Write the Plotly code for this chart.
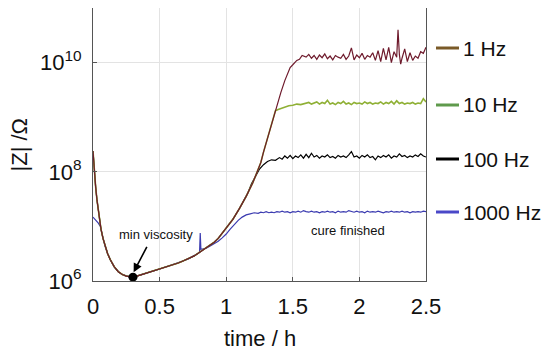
import numpy as np
import plotly.graph_objects as go

# ---------------- data (log10 |Z| in Ohm, time in h) ----------------
# shared curve for all frequencies (merged early part of the cure)
t_main = [0, 0.01, 0.02, 0.03, 0.04, 0.05, 0.06, 0.075, 0.09, 0.11, 0.13, 0.16, 0.19,
          0.22, 0.25, 0.28, 0.30, 0.33, 0.37, 0.42, 0.46, 0.50, 0.55, 0.60, 0.64, 0.68,
          0.72, 0.76, 0.79, 0.82, 0.85, 0.88, 0.91, 0.94, 0.97, 1.00, 1.05, 1.10, 1.15,
          1.20, 1.23, 1.26, 1.28, 1.30, 1.33, 1.35, 1.37]
lz_main = [8.38, 7.98, 7.72, 7.48, 7.28, 7.10, 6.95, 6.78, 6.64, 6.50, 6.39, 6.26, 6.17,
           6.12, 6.09, 6.07, 6.07, 6.09, 6.12, 6.16, 6.19, 6.22, 6.26, 6.30, 6.33, 6.37,
           6.41, 6.46, 6.51, 6.56, 6.61, 6.66, 6.71, 6.78, 6.87, 6.96, 7.13, 7.33, 7.55,
           7.80, 7.97, 8.17, 8.36, 8.53, 8.76, 8.94, 9.12]

# 1 Hz tail
t_1hz = [1.39, 1.41, 1.44, 1.46, 1.48, 1.50, 1.53, 1.55, 1.57, 1.60, 1.62, 1.64, 1.66,
         1.68, 1.70, 1.72, 1.74, 1.76, 1.78, 1.80, 1.82, 1.84, 1.86, 1.88, 1.90, 1.92,
         1.94, 1.96, 1.98, 2.00, 2.02, 2.04, 2.06, 2.08, 2.10, 2.12, 2.14, 2.16, 2.18,
         2.20, 2.22, 2.24, 2.26, 2.28, 2.29, 2.30, 2.31, 2.32, 2.34, 2.36, 2.38, 2.40,
         2.42, 2.44, 2.46, 2.48, 2.50]
lz_1hz = [9.31, 9.45, 9.67, 9.80, 9.91, 9.96, 10.04, 10.06, 10.13, 10.10, 10.15, 10.08, 10.13,
          10.06, 10.14, 10.09, 10.16, 10.07, 10.12, 10.05, 10.13, 10.10, 10.08, 10.15, 10.06, 10.12,
          10.27, 10.05, 10.14, 10.09, 10.17, 10.06, 10.13, 10.10, 10.18, 10.04, 10.22, 10.02, 10.26,
          10.05, 10.28, 10.00, 10.20, 10.10, 10.60, 10.15, 9.97, 10.08, 10.25, 10.02, 10.18, 10.04,
          10.12, 10.08, 10.20, 10.17, 10.28]

# 10 Hz tail
t_10hz = [1.39, 1.41, 1.44, 1.47, 1.50, 1.53, 1.56, 1.60, 1.62, 1.64, 1.66, 1.68, 1.70, 1.72,
          1.74, 1.76, 1.78, 1.80, 1.82, 1.84, 1.86, 1.88, 1.90, 1.92, 1.94, 1.96, 1.98, 2.00,
          2.02, 2.04, 2.06, 2.08, 2.10, 2.12, 2.14, 2.16, 2.18, 2.20, 2.22, 2.24, 2.26, 2.28,
          2.30, 2.32, 2.34, 2.36, 2.38, 2.40, 2.42, 2.44, 2.46, 2.48, 2.50]
lz_10hz = [9.14, 9.16, 9.19, 9.21, 9.22, 9.24, 9.23, 9.25, 9.27, 9.24, 9.26, 9.28, 9.24, 9.27,
           9.25, 9.31, 9.24, 9.26, 9.23, 9.27, 9.25, 9.29, 9.24, 9.26, 9.23, 9.27, 9.25, 9.26,
           9.24, 9.28, 9.25, 9.27, 9.24, 9.26, 9.25, 9.28, 9.24, 9.27, 9.25, 9.29, 9.24, 9.30,
           9.25, 9.27, 9.24, 9.26, 9.25, 9.27, 9.24, 9.26, 9.25, 9.34, 9.28]

# 100 Hz tail (leaves the shared curve at 1.15 h)
t_100hz = [1.16, 1.19, 1.22, 1.25, 1.28, 1.31, 1.34, 1.37, 1.40, 1.42, 1.44, 1.46, 1.48,
           1.50, 1.52, 1.54, 1.56, 1.58, 1.60, 1.62, 1.64, 1.66, 1.68, 1.70, 1.72, 1.74,
           1.76, 1.78, 1.80, 1.82, 1.84, 1.86, 1.88, 1.90, 1.92, 1.94, 1.96, 1.98, 2.00,
           2.02, 2.04, 2.06, 2.08, 2.10, 2.12, 2.14, 2.16, 2.18, 2.20, 2.22, 2.24, 2.26,
           2.28, 2.30, 2.32, 2.34, 2.36, 2.38, 2.40, 2.42, 2.44, 2.46, 2.48, 2.50]
lz_100hz = [7.60, 7.78, 7.93, 8.05, 8.13, 8.19, 8.22, 8.21, 8.26, 8.23, 8.29, 8.25, 8.30,
            8.24, 8.29, 8.26, 8.31, 8.25, 8.32, 8.26, 8.34, 8.27, 8.30, 8.25, 8.29, 8.27,
            8.31, 8.26, 8.28, 8.25, 8.30, 8.27, 8.29, 8.26, 8.31, 8.37, 8.27, 8.29, 8.25,
            8.30, 8.27, 8.31, 8.26, 8.28, 8.22, 8.29, 8.26, 8.30, 8.27, 8.31, 8.25, 8.29,
            8.27, 8.33, 8.28, 8.30, 8.26, 8.29, 8.27, 8.31, 8.28, 8.33, 8.29, 8.27]

# 1000 Hz: own start, then shared curve, then own tail
t_1khz_head = [0, 0.02, 0.04, 0.055]
lz_1khz_head = [7.17, 7.12, 7.06, 7.00]
t_1khz = [0.80, 0.805, 0.81, 0.85, 0.88, 0.91, 0.94, 0.97, 1.00, 1.03, 1.06, 1.09, 1.12,
          1.15, 1.18, 1.21, 1.24, 1.26, 1.28, 1.30, 1.32, 1.34, 1.36, 1.38, 1.40, 1.42,
          1.44, 1.46, 1.48, 1.50, 1.52, 1.54, 1.56, 1.58, 1.60, 1.62, 1.64, 1.66, 1.68,
          1.70, 1.72, 1.74, 1.76, 1.78, 1.80, 1.82, 1.84, 1.86, 1.88, 1.90, 1.92, 1.94,
          1.96, 1.98, 2.00, 2.02, 2.04, 2.06, 2.08, 2.10, 2.12, 2.14, 2.16, 2.18, 2.20,
          2.22, 2.24, 2.26, 2.28, 2.30, 2.32, 2.34, 2.36, 2.38, 2.40, 2.42, 2.44, 2.46,
          2.48, 2.50]
lz_1khz = [6.53, 6.88, 6.58, 6.60, 6.64, 6.68, 6.73, 6.79, 6.86, 6.95, 7.04, 7.11, 7.17,
           7.21, 7.23, 7.25, 7.24, 7.26, 7.25, 7.27, 7.25, 7.26, 7.25, 7.27, 7.26, 7.28,
           7.26, 7.27, 7.25, 7.27, 7.26, 7.28, 7.26, 7.29, 7.27, 7.26, 7.28, 7.26, 7.27,
           7.25, 7.27, 7.26, 7.28, 7.26, 7.27, 7.25, 7.28, 7.26, 7.27, 7.26, 7.29, 7.27,
           7.26, 7.28, 7.26, 7.27, 7.25, 7.28, 7.26, 7.27, 7.26, 7.28, 7.27, 7.25, 7.27,
           7.26, 7.28, 7.26, 7.27, 7.26, 7.28, 7.26, 7.27, 7.25, 7.27, 7.26, 7.27, 7.26,
           7.28, 7.27]

min_visc_t = [0.30]
min_visc_lz = [6.07]

legend_labels = ["1 Hz", "10 Hz", "100 Hz", "1000 Hz"]
x_ticks = [0, 0.5, 1, 1.5, 2, 2.5]
x_ticktext = ["0", "0.5", "1", "1.5", "2", "2.5"]
y_ticks = [1e6, 1e8, 1e10]
y_ticktext = ["10<sup>6</sup>", "10<sup>8</sup>", "10<sup>10</sup>"]

# ---------------- assemble series ----------------
tm = np.array(t_main)
lm = np.array(lz_main)

def series(t_parts, l_parts):
    t = np.concatenate([np.asarray(p, float) for p in t_parts])
    z = 10 ** np.concatenate([np.asarray(p, float) for p in l_parts])
    return t, z

t1, z1 = series([tm, t_1hz], [lm, lz_1hz])
t10, z10 = series([tm, t_10hz], [lm, lz_10hz])
sel100 = tm <= 1.15
t100, z100 = series([tm[sel100], t_100hz], [lm[sel100], lz_100hz])
sel1k = (tm >= 0.075) & (tm <= 0.79)
t1k, z1k = series([t_1khz_head, tm[sel1k], t_1khz], [lz_1khz_head, lm[sel1k], lz_1khz])

FONT = "Liberation Sans, Arial, sans-serif"
curve_cols = ["#6e1a2c", "#8fb035", "#000000", "#3b3bb0"]
legend_cols = ["#7a5a28", "#5f9a4c", "#000000", "#4a48c8"]

fig = go.Figure()
fig.add_trace(go.Scatter(x=t1k, y=z1k, mode="lines", line=dict(color=curve_cols[3], width=1.2)))
fig.add_trace(go.Scatter(x=t100, y=z100, mode="lines", line=dict(color=curve_cols[2], width=1.2)))
fig.add_trace(go.Scatter(x=t10, y=z10, mode="lines", line=dict(color=curve_cols[1], width=1.6)))
fig.add_trace(go.Scatter(x=t1, y=z1, mode="lines", line=dict(color=curve_cols[0], width=1.2)))
fig.add_trace(go.Scatter(x=min_visc_t, y=[10 ** v for v in min_visc_lz], mode="markers",
                         marker=dict(color="black", size=9)))

# page body has an 8 px margin: figure is drawn at (8, 8) in the window
OFF = 8
# plot area in window pixels
L, R, T, B = 93, 426, 8, 281
W, H = 550 - OFF, 354 - OFF

def px(x):
    return (x - L) / (R - L)

def py(y):
    return (B - y) / (B - T)

# legend drawn at the right of the axes
leg_y = [48, 105, 159, 212]
shapes = []
annots = []
for lab, col, yy in zip(legend_labels, legend_cols, leg_y):
    shapes.append(dict(type="line", xref="paper", yref="paper",
                       x0=px(436), x1=px(459), y0=py(yy), y1=py(yy),
                       line=dict(color=col, width=3)))
    annots.append(dict(xref="paper", yref="paper", x=px(461), y=py(yy), text=lab,
                       showarrow=False, xanchor="left", yanchor="middle",
                       font=dict(family=FONT, size=21, color="#111")))

annots.append(dict(x=0.305, y=6.16, xref="x", yref="y", text="", showarrow=True,
                   ax=14, ay=-27, arrowhead=2, arrowsize=1.1, arrowwidth=1.6,
                   arrowcolor="black"))
annots.append(dict(x=0.473, y=6.86, xref="x", yref="y", text="min viscosity",
                   showarrow=False, xanchor="center", yanchor="middle",
                   font=dict(family=FONT, size=13, color="#111")))
annots.append(dict(x=1.915, y=6.93, xref="x", yref="y", text="cure finished",
                   showarrow=False, xanchor="center", yanchor="middle",
                   font=dict(family=FONT, size=13, color="#111")))
annots.append(dict(xref="paper", yref="paper", x=px(259.5), y=py(338), text="time / h",
                   showarrow=False, xanchor="center", yanchor="middle",
                   font=dict(family=FONT, size=22, color="#111")))
annots.append(dict(xref="paper", yref="paper", x=px(19), y=py(144.5), text="|Z| /Ω",
                   showarrow=False, textangle=-90, xanchor="center", yanchor="middle",
                   font=dict(family=FONT, size=22, color="#111")))

axis_common = dict(showline=True, mirror=True, linecolor="#555", linewidth=1,
                   showgrid=True, gridcolor="#e3e3e3", gridwidth=1,
                   ticks="inside", ticklen=4, tickcolor="#555",
                   tickfont=dict(family=FONT, size=22, color="#111"),
                   zeroline=False, ticklabelstandoff=6, automargin=False)

fig.update_layout(
    width=W, height=H,
    margin=dict(l=L - OFF, r=550 - R, t=T - OFF, b=354 - B),
    paper_bgcolor="white", plot_bgcolor="white",
    showlegend=False,
    shapes=shapes, annotations=annots,
    xaxis=dict(range=[0, 2.5], tickvals=x_ticks, ticktext=x_ticktext, **axis_common),
    yaxis=dict(type="log", range=[6, 11], tickvals=y_ticks, ticktext=y_ticktext,
               **axis_common),
)

fig.write_html("out.html")
